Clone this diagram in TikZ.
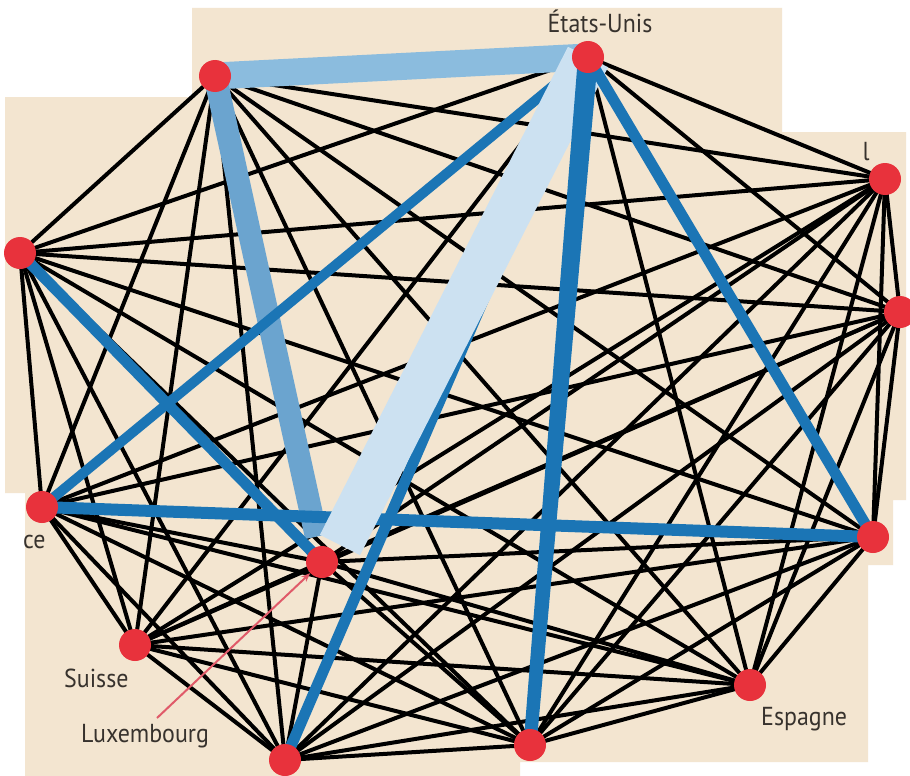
\documentclass[tikz,border=0pt]{standalone}
\usepackage{fontspec}
\setmainfont[FakeStretch=0.92]{PT Sans}
\usetikzlibrary{arrows.meta,calc}
\definecolor{beige}{RGB}{243,229,208}
\definecolor{dotred}{RGB}{232,50,60}
\definecolor{bandA}{RGB}{139,188,222}
\definecolor{bandB}{RGB}{107,164,207}
\definecolor{pale}{RGB}{204,225,241}
\definecolor{dblue}{RGB}{27,117,181}
\definecolor{txt}{RGB}{55,50,45}
\definecolor{arrred}{RGB}{224,90,105}
\pgfdeclarelayer{back}
\pgfdeclarelayer{edges}
\pgfsetlayers{back,edges,main}
\tikzset{
  cnode/.style={circle,fill=dotred,minimum size=32pt,inner sep=0pt},
  blk/.style={black,line width=4pt},
  bluel/.style={dblue,line width=11pt},
  lab/.style={text=txt,font=\fontsize{26}{30}\selectfont,inner sep=0pt},
  arr/.style={arrred,line width=2pt,-{Stealth[length=9pt,width=7pt]}}
}
\begin{document}
\begin{tikzpicture}[x=1pt,y=-1pt]
\useasboundingbox (0,0) rectangle (910,776);
\begin{pgfonlayer}{back}
\fill[white] (0,0) rectangle (910,776);
\fill[beige] (5,97) -- (192,97) -- (192,8) -- (782,8) -- (782,132) -- (906,132) -- (906,500) -- (893,500) -- (893,565) -- (868,565) -- (868,762) -- (520,762) -- (520,776) -- (25,776) -- (25,493) -- (5,493) -- cycle;
\end{pgfonlayer}
% nodes
\node[cnode] (A) at (215,76) {};
\node[cnode] (US) at (588,57) {};
\node[cnode] (B) at (885,179) {};
\node[cnode] (C) at (900,312) {};
\node[cnode] (D) at (873,537) {};
\node[cnode] (Es) at (750,685) {};
\node[cnode] (E) at (530,745) {};
\node[cnode] (F) at (285,760) {};
\node[cnode] (Su) at (135,645) {};
\node[cnode] (Lux) at (322,562) {};
\node[cnode] (Fr) at (42,507) {};
\node[cnode] (G) at (20,253) {};
\coordinate (wb) at (340,545);
\begin{pgfonlayer}{edges}
\foreach \a/\b in {A/B,A/C,A/D,A/Es,A/E,A/F,A/Su,A/Fr,A/G,
  US/B,US/C,US/Es,US/Su,US/G,
  B/C,B/D,B/Es,B/E,B/F,B/Su,B/Lux,B/Fr,B/G,
  C/D,C/Es,C/E,C/F,C/Su,C/Lux,C/Fr,C/G,
  D/Es,D/E,D/F,D/Su,D/Lux,D/G,
  Es/E,Es/F,Es/Su,Es/Lux,Es/Fr,Es/G,
  E/F,E/Su,E/Lux,E/Fr,E/G,
  F/Su,F/Lux,F/Fr,F/G,
  Su/Lux,Su/Fr,Su/G,
  Lux/Fr,Fr/G}
  \draw[blk] (\a.center) -- (\b.center);
\draw[bandA,line width=27pt] (A.center) -- (US.center);
\draw[bandB,line width=23pt,shorten >=26pt] (A.center) -- (Lux.center);
\draw[bluel] (F.center) -- (US.center);
\draw[bluel,line width=12pt] (Fr.center) -- (D.center);
\draw[bluel,line width=10pt] (Fr.center) -- (US.center);
\draw[pale,line width=45pt] (US.center) -- (wb);
\fill[dblue] ($(US.center)!10pt!90:(E.center)$) -- ($(E.center)!6.5pt!-90:(US.center)$)
  -- ($(E.center)!6.5pt!90:(US.center)$) -- ($(US.center)!10pt!-90:(E.center)$) -- cycle;
\draw[bluel] (US.center) -- (D.center);
\draw[bluel] (G.center) -- (Lux.center);
\end{pgfonlayer}
% labels
\node[lab,anchor=base] (lUS) at (600,33) {États-Unis};
\node[lab,anchor=base] (lB) at (866,160) {l};
\node[lab,anchor=base west] (lFr) at (23,548) {ce};
\node[lab,anchor=base west] (lSu) at (64,687) {Suisse};
\node[lab,anchor=base west] (lLux) at (81,742) {Luxembourg};
\node[lab,anchor=base west] (lEs) at (761,725) {Espagne};
\coordinate (arrS) at (157,718);
\draw[arr] (arrS) -- (Lux);
\end{tikzpicture}
\end{document}
